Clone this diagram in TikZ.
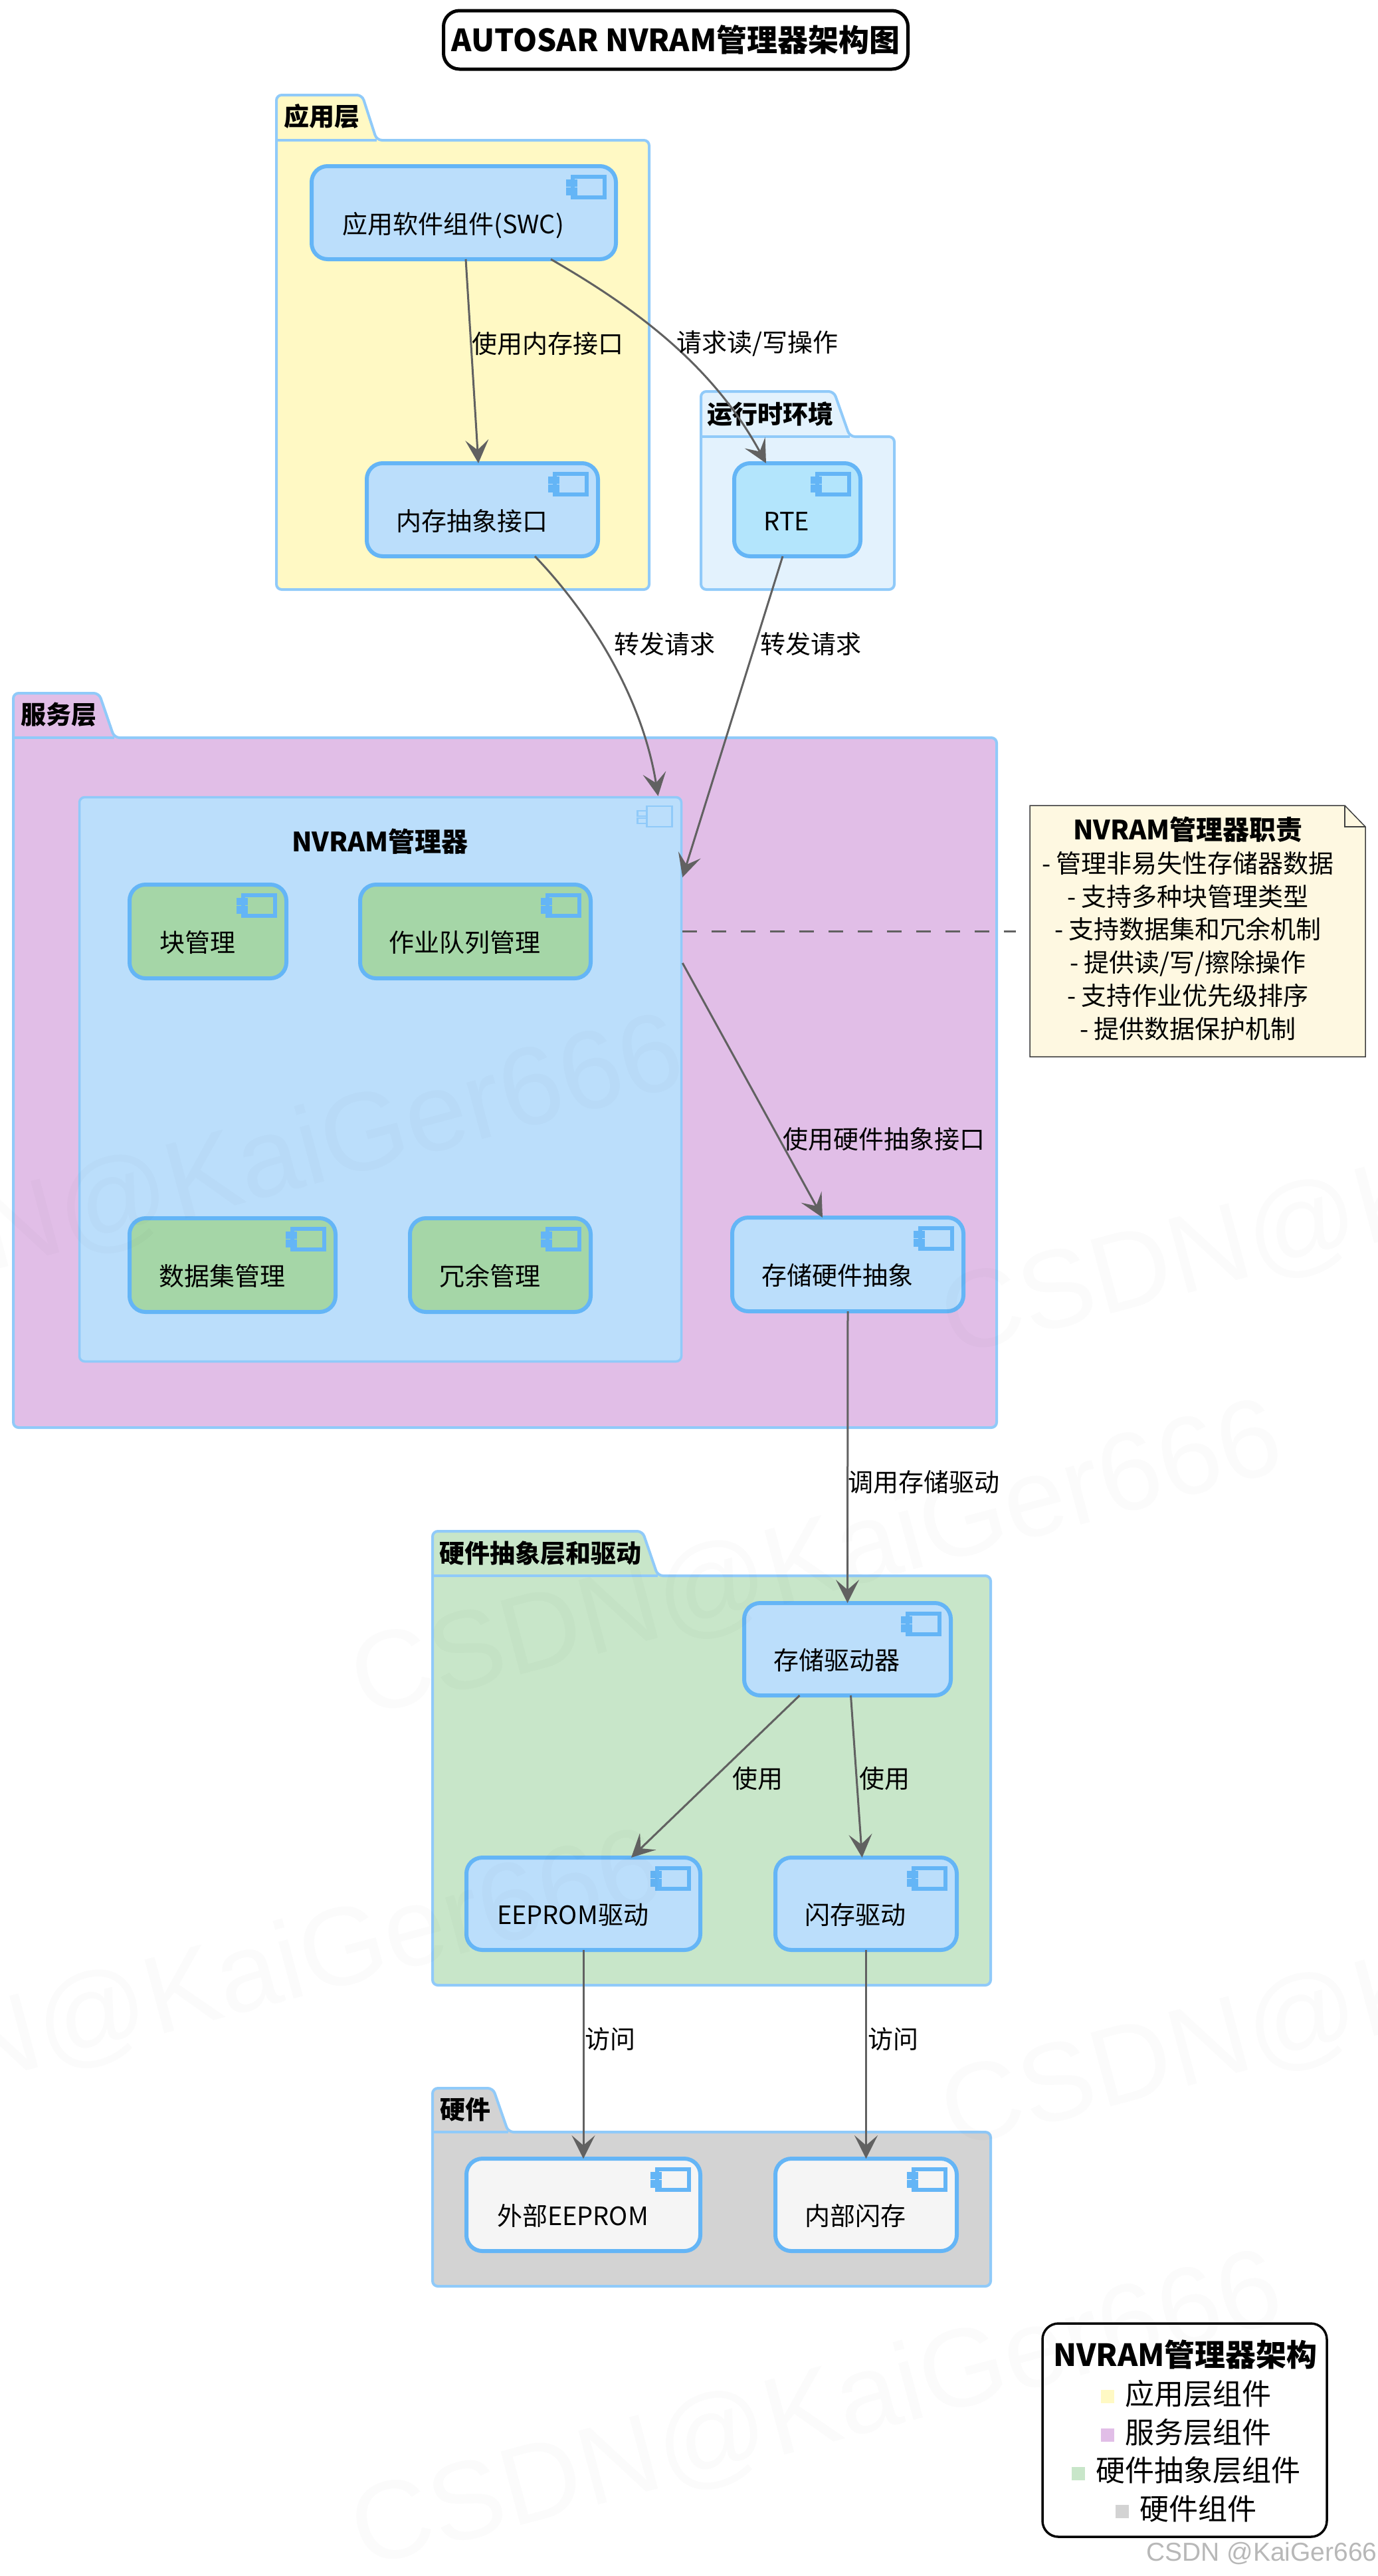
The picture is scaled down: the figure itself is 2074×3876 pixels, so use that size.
\documentclass[tikz,border=0pt]{standalone}
\usepackage{fontspec}
\setmainfont{Noto Sans CJK SC}
\newfontfamily\wmfont{Liberation Sans}
\usetikzlibrary{arrows.meta}
\definecolor{cApp}{HTML}{FFF9C4}
\definecolor{cSrv}{HTML}{E1BEE7}
\definecolor{cHal}{HTML}{C8E6C9}
\definecolor{cHw}{HTML}{D3D3D3}
\definecolor{cRte}{HTML}{E3F2FD}
\definecolor{cBlue}{HTML}{BBDEFB}
\definecolor{cRteN}{HTML}{B3E5FC}
\definecolor{cGreen}{HTML}{A5D6A7}
\definecolor{cWhite}{HTML}{F5F5F5}
\definecolor{cEdge}{HTML}{64B5F6}
\definecolor{cPkg}{HTML}{90CAF9}
\definecolor{cArrow}{HTML}{616161}
\definecolor{cNote}{HTML}{FEF8E1}
\newcommand\fsN{\fontsize{38}{44}\selectfont}
\newcommand\fsB{\fontsize{40}{48}\selectfont}
\newcommand\fsL{\fontsize{44}{52}\selectfont}
\newcommand\fsT{\fontsize{46}{54}\selectfont}
\tikzset{
  compbox/.style={draw=cEdge,line width=6pt,rounded corners=24pt,fill=cBlue,inner sep=0pt,outer sep=0pt,font=\fsN},
  iconline/.style={draw=cEdge,line width=5.5pt},
  iconfill/.style={fill=cEdge,draw=none},
  pkgline/.style={draw=cPkg,line width=4pt,rounded corners=8pt},
  pkglabel/.style={font=\fsN\bfseries,inner sep=0pt},
  elabel/.style={font=\fsN,inner sep=0pt},
  flow/.style={draw=cArrow,line width=3pt,-{Stealth[length=35pt,width=35pt,inset=15pt]}},
  legtext/.style={font=\fsL,inner sep=0pt,anchor=west},
  legsq/.style={inner sep=0pt,minimum size=20pt,draw=none},
  wm/.style={font=\wmfont\fontsize{167}{180}\selectfont,text=black,text opacity=0.015,inner sep=0pt,rotate=15}
}
\newcommand\comptxt[1]{\raisebox{-31pt}[0pt][0pt]{\hspace*{-32pt}#1}}
\newcommand\comp[7]{%
  \pgfmathsetmacro\cwd{#4-#2}\pgfmathsetmacro\cht{#5-#3}%
  \pgfmathsetmacro\ccx{(#2+#4)/2}\pgfmathsetmacro\ccy{(#3+#5)/2}%
  \node[compbox,#6,minimum width=\cwd pt,minimum height=\cht pt] (#1) at (\ccx,\ccy) {\comptxt{#7}};%
  \draw[iconline] ([xshift=-65pt,yshift=-16pt]#1.north east) rectangle ([xshift=-17pt,yshift=-47pt]#1.north east);%
  \fill[iconfill] ([xshift=-75pt,yshift=-20pt]#1.north east) rectangle ([xshift=-58pt,yshift=-31pt]#1.north east);%
  \fill[iconfill] ([xshift=-75pt,yshift=-32pt]#1.north east) rectangle ([xshift=-58pt,yshift=-44pt]#1.north east);%
}
\newcommand\pkgshape[8]{%
  \draw[pkgline,fill=#8] (#1,#4) -- (#1,#3) -- (#6,#3) -- (#7,#4) -- (#2,#4) -- (#2,#5) -- (#1,#5) -- cycle;%
  \draw[draw=cPkg,line width=4pt] (#1,#4) -- (#7,#4);%
}
\begin{document}
\begin{tikzpicture}[x=1pt,y=-1pt]
\fill[white,use as bounding box] (0,0) rectangle (2074,3876);

% title
\node[draw=black,line width=5pt,rounded corners=24pt,fill=white,inner sep=0pt,minimum width=699pt,minimum height=88pt,font=\fsT\bfseries] (title) at (1017,60) {AUTOSAR NVRAM管理器架构图};

% packages
\pkgshape{416}{977}{143}{211}{887}{545}{567}{cApp}
\node[pkglabel] (pApp) at (484,175) {应用层};
\pkgshape{1055}{1346}{589}{657}{887}{1255}{1279}{cRte}
\node[pkglabel] (pRte) at (1159,623) {运行时环境};
\pkgshape{20}{1500}{1043}{1110}{2148}{149}{172}{cSrv}
\node[pkglabel] (pSrv) at (88,1075) {服务层};
\pkgshape{651}{1491}{2304}{2371}{2987}{967}{990}{cHal}
\node[pkglabel] (pHal) at (813,2337) {硬件抽象层和驱动};
\pkgshape{651}{1491}{3142}{3208}{3440}{742}{765}{cHw}
\node[pkglabel] (pHw) at (700,3174) {硬件};

% application layer
\comp{swc}{469}{250}{927}{390}{}{应用软件组件(SWC)}
\comp{mem}{552}{697}{900}{837}{}{内存抽象接口}
\comp{rte}{1105}{697}{1295}{837}{fill=cRteN}{RTE}

% NVRAM manager
\node[draw=cPkg,line width=3.5pt,rounded corners=8pt,fill=cBlue,inner sep=0pt,minimum width=906pt,minimum height=849pt] (nvram) at (572.5,1624) {};
\node[font=\fsB\bfseries,inner sep=0pt] (nvramt) at (572,1266) {NVRAM管理器};
\draw[draw=cPkg,line width=2.5pt] ([xshift=-54pt,yshift=-15pt]nvram.north east) rectangle ([xshift=-16pt,yshift=-46pt]nvram.north east);
\draw[draw=cPkg,line width=2.5pt] ([xshift=-68pt,yshift=-22pt]nvram.north east) rectangle ([xshift=-54pt,yshift=-30pt]nvram.north east);
\draw[draw=cPkg,line width=2.5pt] ([xshift=-68pt,yshift=-33pt]nvram.north east) rectangle ([xshift=-54pt,yshift=-41pt]nvram.north east);

\comp{blk}{195}{1331}{431}{1472}{fill=cGreen}{块管理}
\comp{job}{542}{1331}{889}{1472}{fill=cGreen}{作业队列管理}
\comp{ds}{195}{1833}{505}{1974}{fill=cGreen}{数据集管理}
\comp{red}{617}{1833}{889}{1974}{fill=cGreen}{冗余管理}
\comp{mhw}{1102}{1832}{1450}{1973}{}{存储硬件抽象}

% note
\draw[draw=black!75,line width=1.5pt,fill=cNote] (1550,1212) -- (2024,1212) -- (2055,1244) -- (2055,1590) -- (1550,1590) -- cycle;
\draw[draw=black!75,line width=1.5pt] (2024,1212) -- (2024,1244) -- (2055,1244);
\node[inner sep=0pt,minimum width=505pt,minimum height=378pt,font=\fontsize{38}{49.7}\selectfont,align=center] (note) at (1802.5,1403) {\hspace*{-29pt}\begin{tabular}{@{}c@{}}{\fsB\bfseries NVRAM管理器职责}\\- 管理非易失性存储器数据\\- 支持多种块管理类型\\- 支持数据集和冗余机制\\- 提供读/写/擦除操作\\- 支持作业优先级排序\\- 提供数据保护机制\end{tabular}};

% hardware abstraction and hardware
\comp{drv}{1120}{2412}{1431}{2551}{}{存储驱动器}
\comp{eep}{702}{2795}{1054}{2934}{}{EEPROM驱动}
\comp{fls}{1167}{2795}{1440}{2934}{}{闪存驱动}
\comp{xee}{702}{3248}{1054}{3387}{fill=cWhite}{外部EEPROM}
\comp{ifl}{1167}{3248}{1440}{3387}{fill=cWhite}{内部闪存}

% connectors
\draw[flow] ([xshift=3pt]swc.south) -- ([xshift=-6pt]mem.north);
\draw[flow] ([xshift=131pt]swc.south) .. controls (950,460) and (1070,545) .. ([xshift=-47pt]rte.north);
\draw[flow] ([xshift=79pt]mem.south) .. controls (880,915) and (965,1040) .. ([xshift=418pt]nvram.north);
\draw[flow] ([xshift=-22pt]rte.south) -- ([yshift=304pt]nvram.east);
\draw[draw=cArrow,line width=3pt,dash pattern=on 22pt off 22pt] ([yshift=223pt]nvram.east) -- ([xshift=-21pt,yshift=2pt]note.west);
\draw[flow] ([yshift=175pt]nvram.east) -- ([xshift=-38pt]mhw.north);
\draw[flow] (mhw.south) -- (drv.north);
\draw[flow] ([xshift=-72pt]drv.south) -- ([xshift=72pt]eep.north);
\draw[flow] ([xshift=5pt]drv.south) -- ([xshift=-6pt]fls.north);
\draw[flow] (eep.south) -- (xee.north);
\draw[flow] (fls.south) -- (ifl.north);

% connector labels
\node[elabel] (l1) at (824,517) {使用内存接口};
\node[elabel] (l2) at (1140,517) {请求读/写操作};
\node[elabel] (l3) at (1000,969) {转发请求};
\node[elabel] (l4) at (1220,969) {转发请求};
\node[elabel] (l5) at (1330,1714) {使用硬件抽象接口};
\node[elabel] (l6) at (1390,2230) {调用存储驱动};
\node[elabel] (l7) at (1140,2676) {使用};
\node[elabel] (l8) at (1331,2676) {使用};
\node[elabel] (l9) at (918,3068) {访问};
\node[elabel] (l10) at (1344,3068) {访问};

% legend
\node[draw=black,line width=3.5pt,rounded corners=24pt,fill=white,inner sep=0pt,minimum width=428pt,minimum height=321pt] (legend) at (1783,3656.5) {};
\node[font=\fsT\bfseries,inner sep=0pt] (legt) at (1784,3543) {NVRAM管理器架构};
\node[legsq,fill=cApp] (sq1) at (1667,3606) {};
\node[legtext] (lg1) at (1693,3602) {应用层组件};
\node[legsq,fill=cSrv] (sq2) at (1667,3664) {};
\node[legtext] (lg2) at (1693,3660) {服务层组件};
\node[legsq,fill=cHal] (sq3) at (1623,3722) {};
\node[legtext] (lg3) at (1649,3717) {硬件抽象层组件};
\node[legsq,fill=cHw] (sq4) at (1689,3779) {};
\node[legtext] (lg4) at (1715,3775) {硬件组件};

% watermarks
\node[wm] (wm1) at (329,1770) {CSDN@KaiGer666};
\node[wm] (wm2) at (2118,1807) {CSDN@KaiGer666};
\node[wm] (wm3) at (1230,2350) {CSDN@KaiGer666};
\node[wm] (wm4) at (297,2996) {CSDN@KaiGer666};
\node[wm] (wm5) at (2118,3000) {CSDN@KaiGer666};
\node[wm] (wm6) at (1230,3630) {CSDN@KaiGer666};
\node[font=\wmfont\fontsize{39}{46}\selectfont,text=black!28,inner sep=0pt] (csdn) at (1899,3842) {CSDN @KaiGer666};
\end{tikzpicture}
\end{document}
